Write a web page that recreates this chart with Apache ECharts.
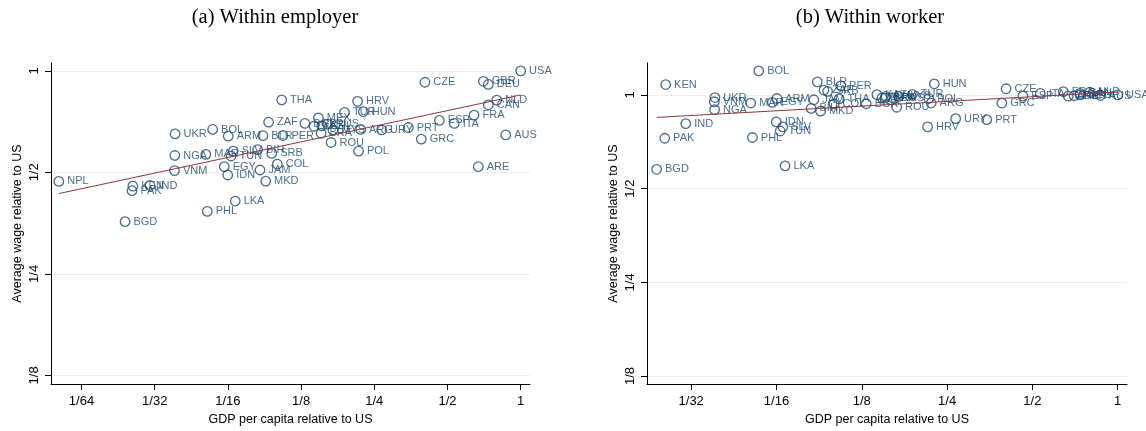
<!DOCTYPE html>
<html>
<head>
<meta charset="utf-8">
<script src="https://cdn.jsdelivr.net/npm/echarts@6/dist/echarts.min.js"></script>
<style>
  html, body { margin: 0; padding: 0; background: #fff; }
  #chart { width: 1146px; height: 431px; }
</style>
</head>
<body>
<div id="chart"></div>
<script>
// Country codes, GDP per capita relative to the US, and average wage relative to the US
const countries = ['NPL','BGD','PAK','KEN','IND','UKR','VNM','NGA','BOL','MAR','PHL','EGY','IDN','ARM','TUN','SLV','LKA',
  'BIH','JAM','BLR','MKD','ZAF','SRB','COL','THA','PER','BGR','KAZ','MEX','BRA','CHL','RUS','ROU','MYS','TUR','HRV',
  'POL','ARG','HUN','URY','GRC','CZE','PRT','ESP','ITA','FRA','ARE','GBR','DEU','CAN','NLD','AUS','USA'];
const gdpRelative = [0.0126,0.0236,0.0252,0.0254,0.0299,0.0379,0.0377,0.0378,0.0541,0.0507,0.0514,0.0604,0.0624,0.0627,0.0644,0.0658,0.0670,
  0.0828,0.0847,0.0871,0.0894,0.0919,0.0947,0.0998,0.104,0.1053,0.1296,0.1413,0.1473,0.151,0.152,0.1604,0.166,0.169,0.1886,0.2134,
  0.2154,0.2197,0.2253,0.268,0.390,0.4038,0.345,0.463,0.533,0.643,0.669,0.702,0.736,0.736,0.797,0.868,1];
const wageWithinEmployer = [0.470,0.357,0.441,0.455,0.457,0.650,0.506,0.561,0.670,0.565,0.383,0.520,0.491,0.640,0.559,0.578,0.411,
  0.584,0.508,0.642,0.471,0.704,0.569,0.529,0.820,0.643,0.698,0.685,0.725,0.653,0.687,0.695,0.613,0.667,0.753,0.812,
  0.578,0.670,0.757,0.668,0.627,0.925,0.679,0.713,0.698,0.739,0.520,0.931,0.911,0.793,0.819,0.646,1];
const wageWithinWorker = [null,0.577,0.726,1.080,0.809,0.981,0.951,0.897,1.195,0.942,0.730,0.947,0.819,0.974,0.766,0.790,0.592,
  0.905,0.965,1.102,0.887,1.037,1.027,0.937,0.971,1.070,0.937,1.003,0.978,0.977,0.989,0.980,0.913,0.989,1.005,0.790,
  0.974,0.942,1.086,0.839,0.942,1.047,0.833,0.991,1.011,1.025,0.991,0.994,1.001,1.012,1.020,0.996,1];

// Linear fit (log-log) end points
const fitEmployerGdp = [0.0126, 1];
const fitEmployerWage = [0.4325, 0.848];
const fitWorkerGdp = [0.0236, 1];
const fitWorkerWage = [0.847, 1.022];

// Tick labels
const xTickLabelsA = ['1/64','1/32','1/16','1/8','1/4','1/2','1'];
const xTickValuesA = [1/64,1/32,1/16,1/8,1/4,1/2,1];
const xTickLabelsB = ['1/32','1/16','1/8','1/4','1/2','1'];
const xTickValuesB = [1/32,1/16,1/8,1/4,1/2,1];
const yTickLabels = ['1/8','1/4','1/2','1'];
const yTickValues = [1/8,1/4,1/2,1];

const NAVY = '#1a476f';
const FIT = '#90353b';
const GRID = '#e9f0f2';
const SANS = 'Liberation Sans, Arial, sans-serif';

const l2 = Math.log2;

function tickFormatter(values, labels) {
  const pos = values.map(l2);
  return function (v) {
    const i = pos.findIndex(p => Math.abs(p - v) < 1e-6);
    return i >= 0 ? labels[i] : '';
  };
}

function xAxisFor(gridIndex, min, max, values, labels) {
  const pos = values.map(l2);
  return {
    type: 'value', gridIndex, min, max,
    name: 'GDP per capita relative to US', nameLocation: 'middle', nameGap: 25,
    nameTextStyle: { fontFamily: SANS, fontSize: 12.5, color: '#000' },
    axisLine: { show: true, onZero: false, lineStyle: { color: '#000', width: 1 } },
    axisTick: { show: true, length: 6, customValues: pos, lineStyle: { color: '#000', width: 1 } },
    axisLabel: { customValues: pos, formatter: tickFormatter(values, labels), fontFamily: SANS, fontSize: 13, color: '#000', margin: 11 },
    splitLine: { show: false }
  };
}

function yAxisFor(gridIndex, min, max) {
  const pos = yTickValues.map(l2);
  return {
    type: 'value', gridIndex, min, max,
    name: 'Average wage relative to US', nameLocation: 'middle', nameRotate: 90, nameGap: 27,
    nameTextStyle: { fontFamily: SANS, fontSize: 12.5, color: '#000' },
    axisLine: { show: true, onZero: false, lineStyle: { color: '#000', width: 1 } },
    axisTick: { show: true, length: 6, customValues: pos, lineStyle: { color: '#000', width: 1 } },
    axisLabel: { customValues: pos, formatter: tickFormatter(yTickValues, yTickLabels), rotate: 90, fontFamily: SANS, fontSize: 13, color: '#000', margin: 10 },
    splitLine: { show: true, lineStyle: { color: GRID, width: 1.2 } }
  };
}

function points(wages) {
  const out = [];
  countries.forEach((c, i) => {
    if (wages[i] != null) out.push({ name: c, value: [l2(gdpRelative[i]), l2(wages[i])] });
  });
  return out;
}

function scatterSeries(idx, wages) {
  return {
    type: 'scatter', xAxisIndex: idx, yAxisIndex: idx,
    data: points(wages),
    symbol: 'circle', symbolSize: 9.5,
    itemStyle: { color: 'rgba(0,0,0,0)', borderColor: NAVY, borderWidth: 1.3 },
    label: { show: true, position: 'right', distance: 3, formatter: '{b}', fontFamily: SANS, fontSize: 11, color: NAVY },
    emphasis: { disabled: true },
    silent: true
  };
}

function fitSeries(idx, gdp, wage) {
  return {
    type: 'line', xAxisIndex: idx, yAxisIndex: idx,
    data: gdp.map((g, i) => [l2(g), l2(wage[i])]),
    symbol: 'none', lineStyle: { color: FIT, width: 1 }, silent: true, z: 3
  };
}

const chart = echarts.init(document.getElementById('chart'), null, { renderer: 'canvas' });
chart.setOption({
  animation: false,
  backgroundColor: '#fff',
  title: [
    { text: '(a) Within employer', left: 270, top: 2, textAlign: 'center',
      textStyle: { fontFamily: 'Liberation Serif, serif', fontSize: 20.5, fontWeight: 'normal', color: '#000' } },
    { text: '(b) Within worker', left: 865, top: 2, textAlign: 'center',
      textStyle: { fontFamily: 'Liberation Serif, serif', fontSize: 20.5, fontWeight: 'normal', color: '#000' } }
  ],
  grid: [
    { left: 51, width: 479, top: 63, height: 329 },
    { left: 647, width: 480, top: 63, height: 329 }
  ],
  xAxis: [
    xAxisFor(0, -6.417, 0.127, xTickValuesA, xTickLabelsA),
    xAxisFor(1, -5.518, 0.109, xTickValuesB, xTickLabelsB)
  ],
  yAxis: [
    yAxisFor(0, -3.086, 0.077),
    yAxisFor(1, -3.086, 0.341)
  ],
  series: [
    scatterSeries(0, wageWithinEmployer),
    fitSeries(0, fitEmployerGdp, fitEmployerWage),
    scatterSeries(1, wageWithinWorker),
    fitSeries(1, fitWorkerGdp, fitWorkerWage)
  ]
});
</script>
</body>
</html>
